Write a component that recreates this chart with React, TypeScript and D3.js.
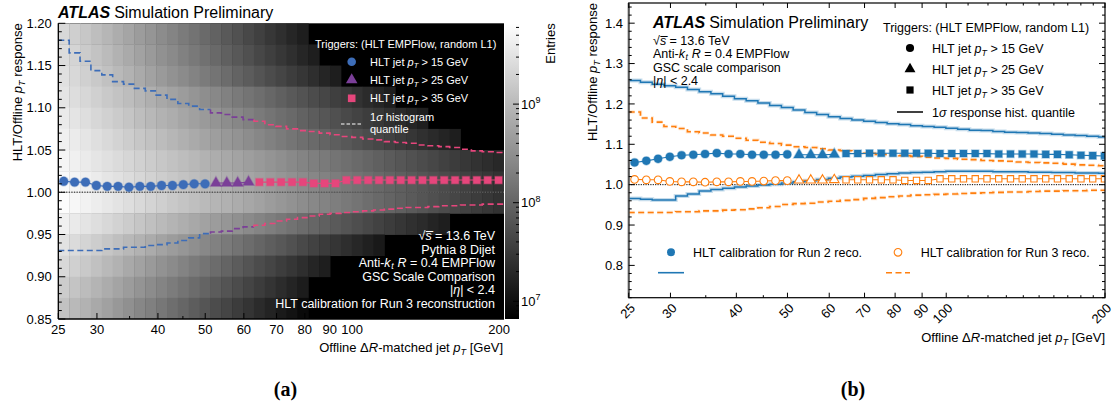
import React from 'react';
import * as d3 from 'd3';

// ---- offline pT binning, shared by both panels (log-spaced)
const PT_MIN = 25;
const PT_MAX = 204.7;
const N_BINS = 41;
const ptEdges = d3.range(N_BINS + 1).map((i) => PT_MIN * Math.pow(PT_MAX / PT_MIN, i / N_BINS));
const ptCenters = ptEdges.slice(0, -1).map((e, i) => Math.sqrt(e * ptEdges[i + 1]));

const ptTicks = [25, 30, 40, 50, 60, 70, 80, 90, 100, 200];
const ptMinorTicks = [35, 45, 110, 120, 130, 140, 150, 160, 170, 180, 190];

// trigger thresholds and the first bin each one is used from
const triggerLabels = ['15', '25', '35'];
const triggerStart = [0, 14, 18];

// Run 3 calibration: median response per bin (panel a, orange in panel b)
const run3Circles = [1.013, 1.012, 1.012, 1.008, 1.007, 1.007, 1.006, 1.007, 1.007, 1.008, 1.008, 1.009, 1.010, 1.010];
const run3Triangles = [1.011, 1.011, 1.011, 1.012];
const run3Squares = [1.012, 1.012, 1.012, 1.012, 1.012, 1.0105, 1.0105, 1.0105, 1.0145, 1.0145, 1.0145, 1.0145,
  1.0145, 1.0145, 1.0145, 1.0145, 1.0145, 1.0145, 1.0145, 1.0145, 1.0145, 1.0145, 1.0145];
const run3Upper = [1.180, 1.165, 1.155, 1.144, 1.139, 1.131, 1.128, 1.123, 1.120, 1.115, 1.110, 1.105, 1.102, 1.098,
  1.094, 1.092, 1.089, 1.086, 1.084, 1.080, 1.078, 1.075, 1.073, 1.072, 1.070, 1.068, 1.066, 1.065, 1.063, 1.062,
  1.060, 1.059, 1.058, 1.056, 1.055, 1.054, 1.053, 1.051, 1.049, 1.048, 1.047];
const run3Lower = [0.931, 0.931, 0.931, 0.931, 0.933, 0.933, 0.935, 0.935, 0.937, 0.938, 0.940, 0.943, 0.946, 0.951,
  0.953, 0.954, 0.957, 0.959, 0.961, 0.963, 0.966, 0.968, 0.970, 0.972, 0.974, 0.975, 0.976, 0.977, 0.978, 0.979,
  0.980, 0.981, 0.982, 0.982, 0.983, 0.984, 0.984, 0.985, 0.985, 0.986, 0.986];

// Run 2 calibration (blue in panel b)
const run2Circles = [1.055, 1.059, 1.064, 1.069, 1.073, 1.074, 1.076, 1.078, 1.076, 1.076, 1.074, 1.074, 1.074, 1.075];
const run2Triangles = [1.074, 1.074, 1.074, 1.075];
const run2Squares = [1.077, 1.077, 1.078, 1.078, 1.078, 1.078, 1.078, 1.078, 1.077, 1.077, 1.077, 1.077, 1.077,
  1.076, 1.076, 1.076, 1.076, 1.075, 1.075, 1.074, 1.073, 1.072, 1.071];
const run2Upper = [1.258, 1.254, 1.249, 1.245, 1.241, 1.236, 1.230, 1.225, 1.219, 1.213, 1.208, 1.202, 1.196, 1.191,
  1.185, 1.179, 1.174, 1.168, 1.164, 1.160, 1.157, 1.154, 1.151, 1.149, 1.146, 1.144, 1.142, 1.140, 1.137, 1.135,
  1.134, 1.132, 1.130, 1.129, 1.128, 1.127, 1.125, 1.123, 1.122, 1.120, 1.118];
const run2Lower = [0.966, 0.964, 0.962, 0.962, 0.972, 0.977, 0.984, 0.988, 0.991, 0.994, 0.997, 0.999, 1.001, 1.004,
  1.007, 1.010, 1.013, 1.016, 1.019, 1.021, 1.023, 1.025, 1.027, 1.029, 1.030, 1.031, 1.032, 1.033, 1.033, 1.033,
  1.033, 1.032, 1.032, 1.032, 1.031, 1.031, 1.030, 1.030, 1.029, 1.029, 1.028];

// 2D response histogram, log10(entries); rows top to bottom, lower edge of each row below
const responseBinLow = [1.175, 1.15, 1.125, 1.1, 1.075, 1.05, 1.025, 1.0, 0.975, 0.95, 0.925, 0.9, 0.875, 0.85];
const histLog10 = [
  [9.36, 9.26, 9.16, 9.06, 8.96, 8.86, 8.76, 8.66, 8.57, 8.47, 8.37, 8.27, 8.17, 8.07, 7.97, 7.87, 7.77, 7.67, 7.57, 7.47, 7.37, 7.27, 7.17],
  [9.41, 9.31, 9.21, 9.12, 9.02, 8.92, 8.82, 8.73, 8.63, 8.53, 8.44, 8.34, 8.24, 8.15, 8.05, 7.95, 7.86, 7.76, 7.66, 7.56, 7.47, 7.37, 7.27, 7.17],
  [9.46, 9.36, 9.27, 9.18, 9.09, 9.00, 8.91, 8.82, 8.73, 8.63, 8.54, 8.45, 8.36, 8.27, 8.18, 8.09, 7.99, 7.90, 7.81, 7.72, 7.63, 7.54, 7.45, 7.36, 7.26, 7.17],
  [9.50, 9.42, 9.35, 9.27, 9.19, 9.11, 9.04, 8.96, 8.88, 8.80, 8.73, 8.65, 8.57, 8.49, 8.42, 8.34, 8.26, 8.18, 8.11, 8.03, 7.95, 7.87, 7.80, 7.72, 7.64, 7.56, 7.49, 7.41, 7.33, 7.25, 7.17],
  [9.57, 9.50, 9.43, 9.35, 9.28, 9.21, 9.14, 9.06, 8.99, 8.92, 8.85, 8.77, 8.70, 8.63, 8.56, 8.48, 8.41, 8.34, 8.26, 8.19, 8.12, 8.05, 7.97, 7.90, 7.83, 7.76, 7.68, 7.61, 7.54, 7.47, 7.39, 7.32, 7.25, 7.17],
  [9.64, 9.58, 9.51, 9.44, 9.37, 9.30, 9.23, 9.16, 9.10, 9.03, 8.96, 8.89, 8.82, 8.75, 8.68, 8.61, 8.55, 8.48, 8.41, 8.34, 8.27, 8.20, 8.13, 8.07, 8.00, 7.93, 7.86, 7.79, 7.72, 7.65, 7.58, 7.52, 7.45, 7.38, 7.31, 7.24, 7.17],
  [9.70, 9.64, 9.58, 9.52, 9.46, 9.40, 9.34, 9.28, 9.22, 9.16, 9.10, 9.04, 8.98, 8.92, 8.86, 8.80, 8.74, 8.68, 8.62, 8.56, 8.50, 8.43, 8.37, 8.31, 8.25, 8.19, 8.13, 8.07, 8.01, 7.95, 7.89, 7.83, 7.77, 7.71, 7.65, 7.59, 7.53, 7.47, 7.41, 7.35, 7.29],
  [9.76, 9.70, 9.64, 9.58, 9.52, 9.47, 9.41, 9.35, 9.29, 9.23, 9.17, 9.11, 9.05, 9.00, 8.94, 8.88, 8.82, 8.76, 8.70, 8.64, 8.58, 8.53, 8.47, 8.41, 8.35, 8.29, 8.23, 8.17, 8.11, 8.06, 8.00, 7.94, 7.88, 7.82, 7.76, 7.70, 7.64, 7.58, 7.53, 7.47, 7.41],
  [9.79, 9.73, 9.67, 9.61, 9.55, 9.49, 9.43, 9.37, 9.31, 9.25, 9.19, 9.13, 9.07, 9.01, 8.95, 8.90, 8.84, 8.78, 8.72, 8.66, 8.60, 8.54, 8.48, 8.42, 8.36, 8.30, 8.24, 8.18, 8.12, 8.06, 8.00, 7.94, 7.88, 7.82, 7.76, 7.70, 7.64, 7.58, 7.53, 7.47, 7.41],
  [9.64, 9.57, 9.50, 9.43, 9.36, 9.29, 9.22, 9.15, 9.08, 9.01, 8.94, 8.87, 8.80, 8.73, 8.66, 8.59, 8.51, 8.44, 8.37, 8.30, 8.23, 8.16, 8.09, 8.02, 7.95, 7.88, 7.81, 7.74, 7.67, 7.60, 7.53, 7.46, 7.39, 7.32, 7.24, 7.17],
  [9.48, 9.40, 9.32, 9.23, 9.15, 9.07, 8.99, 8.91, 8.83, 8.74, 8.66, 8.58, 8.50, 8.42, 8.34, 8.26, 8.17, 8.09, 8.01, 7.93, 7.85, 7.77, 7.68, 7.60, 7.52, 7.44, 7.36, 7.28, 7.20, 7.11],
  [9.36, 9.27, 9.18, 9.09, 9.00, 8.91, 8.81, 8.72, 8.63, 8.54, 8.45, 8.36, 8.27, 8.18, 8.09, 8.00, 7.90, 7.81, 7.72, 7.63, 7.54, 7.45, 7.36, 7.26, 7.17],
  [9.22, 9.13, 9.03, 8.94, 8.84, 8.75, 8.66, 8.56, 8.47, 8.37, 8.28, 8.19, 8.09, 8.00, 7.90, 7.81, 7.72, 7.62, 7.53, 7.43, 7.34, 7.24, 7.15],
  [9.10, 9.00, 8.91, 8.81, 8.71, 8.61, 8.51, 8.41, 8.32, 8.22, 8.12, 8.02, 7.92, 7.82, 7.72, 7.63, 7.53, 7.43, 7.33, 7.23, 7.13, 7.04, 6.94],
];
const COLOR_MIN = 6.82;
const COLOR_MAX = 9.82;

const FONT = '"Liberation Sans", Arial, Helvetica, sans-serif';
const SERIF = '"Liberation Serif", "Times New Roman", Times, serif';
const symbolTypes = [d3.symbolCircle, d3.symbolTriangle, d3.symbolSquare];

const sym = (i: number, size: number) => d3.symbol().type(symbolTypes[i]).size(size)() as string;

// step path for bins [from, to), joined to the previous bin if any
function stepPath(x: any, y: any, vals: number[], from: number, to: number) {
  const pts: [number, number][] = [];
  if (from > 0) pts.push([ptEdges[from], vals[from - 1]]);
  for (let i = from; i < to; i++) pts.push([ptEdges[i], vals[i]]);
  pts.push([ptEdges[to], vals[to - 1]]);
  return d3.line<[number, number]>().x((d) => x(d[0])).y((d) => y(d[1])).curve(d3.curveStepAfter)(pts) as string;
}

const groupsOf = (a: number[], b: number[], c: number[]) => [a, b, c];

// "HLT jet pT > NN GeV"
const PtLabel = ({ thr, fs }: { thr: string; fs: number }) => (
  <>
    HLT jet <tspan fontStyle="italic">p</tspan>
    <tspan fontStyle="italic" fontSize={fs * 0.7} dy={fs * 0.25}>T</tspan>
    <tspan dy={-fs * 0.25}> &gt; {thr} GeV</tspan>
  </>
);

const PtAxisLabel = ({ fs }: { fs: number }) => (
  <>
    Offline Δ<tspan fontStyle="italic">R</tspan>-matched jet <tspan fontStyle="italic">p</tspan>
    <tspan fontStyle="italic" fontSize={fs * 0.7} dy={fs * 0.25}>T</tspan>
    <tspan dy={-fs * 0.25}> [GeV]</tspan>
  </>
);

const ResponseLabel = ({ fs }: { fs: number }) => (
  <>
    HLT/Offline <tspan fontStyle="italic">p</tspan>
    <tspan fontStyle="italic" fontSize={fs * 0.7} dy={fs * 0.25}>T</tspan>
    <tspan dy={-fs * 0.25}> response</tspan>
  </>
);

const Sqrts = () => (
  <>
    √<tspan fontStyle="italic">{'s\u0305'}</tspan> = 13.6 TeV
  </>
);

const AntiKt = ({ fs }: { fs: number }) => (
  <>
    Anti-<tspan fontStyle="italic">k</tspan>
    <tspan fontStyle="italic" fontSize={fs * 0.7} dx={0.6} dy={fs * 0.18}>t</tspan>
    <tspan fontStyle="italic" dx={fs * 0.3} dy={-fs * 0.18}>R</tspan>
    <tspan> = 0.4 EMPFlow</tspan>
  </>
);

const Eta = () => (
  <>
    |<tspan fontStyle="italic">η</tspan>| &lt; 2.4
  </>
);

const AtlasHeader = ({ x, y }: { x: number; y: number }) => (
  <text x={x} y={y} fontSize={16} fontFamily={FONT}>
    <tspan fontWeight="bold" fontStyle="italic">ATLAS</tspan>
    <tspan dx={4}>Simulation Preliminary</tspan>
  </text>
);

function PanelA() {
  const L = 58.3, R = 504, T = 23.3, B = 319;
  const x = d3.scaleLog().domain([PT_MIN, PT_MAX]).range([L, R]);
  const y = d3.scaleLinear().domain([0.85, 1.2]).range([B, T]);
  const gray = d3.scaleSequential(d3.interpolateRgb('#000000', '#ffffff')).domain([COLOR_MIN, COLOR_MAX]).clamp(true);
  const cb = d3.scaleLog().domain([Math.pow(10, COLOR_MIN), Math.pow(10, COLOR_MAX)]).range([B, T]);
  const CBL = 505, CBR = 519;

  const colors = ['#3d6db8', '#7b3f98', '#e6467c'];
  const groups = groupsOf(run3Circles, run3Triangles, run3Squares);
  const bounds = [0, 14, 18, 41];

  const cells: JSX.Element[] = [];
  histLog10.forEach((row, r) => {
    const lo = responseBinLow[r];
    row.forEach((v, c) => {
      const x0 = x(ptEdges[c]);
      const x1 = x(ptEdges[c + 1]);
      cells.push(
        <rect key={`${r}-${c}`} x={x0} y={y(lo + 0.025)} width={x1 - x0 + 0.4} height={y(lo) - y(lo + 0.025) + 0.4}
          fill={gray(v)} />
      );
    });
  });

  const yMajor = d3.range(0.85, 1.2001, 0.05).map((v) => +v.toFixed(2));
  const yMinor = d3.range(0.85, 1.2001, 0.01).map((v) => +v.toFixed(2)).filter((v) => !yMajor.includes(v));

  const cbMajor = [1e7, 1e8, 1e9];
  const cbMinor: number[] = [];
  [6, 7, 8, 9].forEach((k) => d3.range(2, 10).forEach((m) => {
    const v = m * Math.pow(10, k);
    if (v > cb.domain()[0] && v < cb.domain()[1]) cbMinor.push(v);
  }));
  const stops = d3.range(0, 1.0001, 0.1);

  return (
    <g fontFamily={FONT}>
      <defs>
        <clipPath id="clipA"><rect x={L} y={T} width={R - L} height={B - T} /></clipPath>
        <linearGradient id="cbGrad" x1="0" y1="1" x2="0" y2="0">
          {stops.map((t) => (
            <stop key={t} offset={t} stopColor={gray(COLOR_MIN + t * (COLOR_MAX - COLOR_MIN))} />
          ))}
        </linearGradient>
      </defs>
      <rect x={L} y={T} width={R - L} height={B - T} fill="#000" />
      <g clipPath="url(#clipA)">
        {cells}
        <line x1={L} x2={R} y1={y(1)} y2={y(1)} stroke="#5a5a5a" strokeWidth={1.6} strokeDasharray="1.3 1.3" />
        {[run3Upper, run3Lower].map((vals, k) =>
          [0, 1, 2].map((g) => (
            <path key={`q${k}${g}`} d={stepPath(x, y, vals, bounds[g], bounds[g + 1])} fill="none" stroke={colors[g]}
              strokeWidth={1.6} strokeDasharray="6 3.5" />
          ))
        )}
        {groups.map((vals, g) => {
          const line = d3.line<number>().x((_, i) => x(ptCenters[triggerStart[g] + i])).y((d) => y(d));
          return <path key={`l${g}`} d={line(vals) as string} fill="none" stroke={colors[g]} strokeWidth={1.1} />;
        })}
        {groups.map((vals, g) =>
          vals.map((v, i) => (
            <path key={`m${g}-${i}`} d={sym(g, g === 0 ? 62 : 52)}
              transform={`translate(${x(ptCenters[triggerStart[g] + i])},${y(v)})`} fill={colors[g]}
              stroke={colors[g]} strokeOpacity={0.35} strokeWidth={1.5} />
          ))
        )}
      </g>

      {/* legend */}
      <g fill="#fff" fontSize={11}>
        <text x={315} y={48}>Triggers: (HLT EMPFlow, random L1)</text>
        {triggerLabels.map((t, g) => (
          <g key={t}>
            <path d={sym(g, 58)} transform={`translate(351.7,${61.7 + g * 18.3})`} fill={colors[g]} />
            <text x={370} y={65.7 + g * 18.3}><PtLabel thr={t} fs={11} /></text>
          </g>
        ))}
        <line x1={341} x2={362} y1={124} y2={124} stroke="#fff" strokeWidth={1.2} strokeDasharray="3.5 2" />
        <text x={370} y={121}>1<tspan fontStyle="italic">σ</tspan> histogram</text>
        <text x={370} y={132.5}>quantile</text>
      </g>

      {/* info */}
      <g fill="#fff" fontSize={12.5} textAnchor="end">
        <text x={495} y={240}><Sqrts /></text>
        <text x={495} y={253.5}>Pythia 8 Dijet</text>
        <text x={495} y={266.5}><AntiKt fs={12.5} /></text>
        <text x={495} y={280.5}>GSC Scale Comparison</text>
        <text x={495} y={294}><Eta /></text>
        <text x={495} y={307.5}>HLT calibration for Run 3 reconstruction</text>
      </g>

      {/* axes */}
      <line x1={L} x2={L} y1={T} y2={B} stroke="#000" strokeWidth={1.3} />
      <line x1={L} x2={R} y1={B} y2={B} stroke="#000" strokeWidth={1.3} />
      {yMajor.map((v) => (
        <g key={`ym${v}`}>
          <line x1={L} x2={L + 7} y1={y(v)} y2={y(v)} stroke="#000" strokeWidth={1} />
          <text x={L - 6.5} y={y(v)} dy="0.36em" fontSize={13} textAnchor="end">{v.toFixed(2)}</text>
        </g>
      ))}
      {yMinor.map((v) => (
        <line key={`yn${v}`} x1={L} x2={L + 3.5} y1={y(v)} y2={y(v)} stroke="#000" strokeWidth={1} />
      ))}
      {ptTicks.map((v) => (
        <g key={`xm${v}`}>
          <line x1={x(v)} x2={x(v)} y1={B} y2={B - 6} stroke="#000" />
          <text x={x(v)} y={334} fontSize={13} textAnchor="middle">{v}</text>
        </g>
      ))}
      {ptMinorTicks.map((v) => (
        <line key={`xn${v}`} x1={x(v)} x2={x(v)} y1={B} y2={B - 3} stroke="#000" />
      ))}
      <text x={503} y={352} fontSize={13} textAnchor="end"><PtAxisLabel fs={13} /></text>
      <text transform={`translate(21.5,${T}) rotate(-90)`} fontSize={13} textAnchor="end"><ResponseLabel fs={13} /></text>
      <AtlasHeader x={58} y={18} />

      {/* colour bar */}
      <rect x={CBL} y={T} width={CBR - CBL} height={B - T} fill="url(#cbGrad)" />
      {cbMajor.map((v, i) => (
        <g key={`cb${v}`}>
          <line x1={CBR} x2={CBR - 6} y1={cb(v)} y2={cb(v)} stroke="#000" />
          <text x={521} y={cb(v) + 4.5} fontSize={13}>10<tspan dy={-5.5} fontSize={9}>{7 + i}</tspan></text>
        </g>
      ))}
      {cbMinor.map((v) => (
        <line key={`cbn${v}`} x1={CBR} x2={CBR - 3} y1={cb(v)} y2={cb(v)} stroke="#000" />
      ))}
      <text transform={`translate(555,${T}) rotate(-90)`} fontSize={13} textAnchor="end">Entries</text>

      <text x={285.5} y={396} fontFamily={SERIF} fontWeight="bold" fontSize={20} textAnchor="middle">(a)</text>
    </g>
  );
}

function PanelB() {
  const L = 628.7, R = 1105, T = 3, B = 297.7;
  const x = d3.scaleLog().domain([25, 200]).range([L, R]);
  const y = d3.scaleLinear().domain([0.72, 1.45]).range([B, T]);
  const blue = '#1f77b4';
  const orange = '#ff7f0e';

  const yMajor = d3.range(0.8, 1.4001, 0.1).map((v) => +v.toFixed(1));
  const yMinor = d3.range(0.72, 1.4501, 0.02).map((v) => +v.toFixed(2)).filter((v) => !yMajor.some((m) => Math.abs(m - v) < 1e-6));

  const run2 = groupsOf(run2Circles, run2Triangles, run2Squares);
  const run3 = groupsOf(run3Circles, run3Triangles, run3Squares);

  const markerLine = (vals: number[], g: number) =>
    d3.line<number>().x((_, i) => x(ptCenters[triggerStart[g] + i])).y((d) => y(d))(vals) as string;

  return (
    <g fontFamily={FONT}>
      <defs>
        <clipPath id="clipB"><rect x={L} y={T} width={R - L} height={B - T} /></clipPath>
      </defs>
      <g clipPath="url(#clipB)">
        <line x1={L} x2={R} y1={y(1)} y2={y(1)} stroke="#000" strokeWidth={1} strokeDasharray="1.2 1.2" />
        {[run2Upper, run2Lower].map((vals, k) => {
          const d = stepPath(x, y, vals, 0, N_BINS);
          return (
            <g key={`r2q${k}`}>
              <path d={d} fill="none" stroke={blue} strokeOpacity={0.25} strokeWidth={4} />
              <path d={d} fill="none" stroke={blue} strokeWidth={1.5} />
            </g>
          );
        })}
        {[run3Upper, run3Lower].map((vals, k) => {
          const d = stepPath(x, y, vals, 0, N_BINS);
          return (
            <g key={`r3q${k}`}>
              <path d={d} fill="none" stroke={orange} strokeOpacity={0.18} strokeWidth={3.5} strokeDasharray="6 3.5" />
              <path d={d} fill="none" stroke={orange} strokeWidth={1.6} strokeDasharray="6 3.5" />
            </g>
          );
        })}
        {run2.map((vals, g) => (
          <path key={`r2l${g}`} d={markerLine(vals, g)} fill="none" stroke={blue} strokeWidth={1.1} />
        ))}
        {run3.map((vals, g) => (
          <path key={`r3l${g}`} d={markerLine(vals, g)} fill="none" stroke={orange} strokeWidth={1.1} />
        ))}
        {run2.map((vals, g) =>
          vals.map((v, i) => (
            <path key={`r2m${g}-${i}`} d={sym(g, g === 0 ? 52 : 50)}
              transform={`translate(${x(ptCenters[triggerStart[g] + i])},${y(v)})`} fill={blue}
              stroke={blue} strokeOpacity={0.35} strokeWidth={1.5} />
          ))
        )}
        {run3.map((vals, g) =>
          vals.map((v, i) => (
            <path key={`r3m${g}-${i}`} d={sym(g, g === 0 ? 46 : 40)}
              transform={`translate(${x(ptCenters[triggerStart[g] + i])},${y(v)})`} fill="#fff"
              stroke={orange} strokeWidth={1.1} />
          ))
        )}
      </g>

      {/* frame and ticks */}
      <rect x={L} y={T} width={R - L} height={B - T} fill="none" stroke="#000" strokeWidth={1.2} />
      <line x1={L} x2={L} y1={T} y2={B} stroke="#555" strokeWidth={2} />
      {yMajor.map((v) => (
        <g key={`bym${v}`}>
          <line x1={L} x2={L + 6} y1={y(v)} y2={y(v)} stroke="#000" />
          <line x1={R} x2={R - 6} y1={y(v)} y2={y(v)} stroke="#000" />
          <text x={623} y={y(v)} dy="0.36em" fontSize={13} textAnchor="end">{v.toFixed(1)}</text>
        </g>
      ))}
      {yMinor.map((v) => (
        <g key={`byn${v}`}>
          <line x1={L} x2={L + 3} y1={y(v)} y2={y(v)} stroke="#000" />
          <line x1={R} x2={R - 3} y1={y(v)} y2={y(v)} stroke="#000" />
        </g>
      ))}
      {ptTicks.map((v) => (
        <g key={`bxm${v}`}>
          <line x1={x(v)} x2={x(v)} y1={B} y2={B - 5} stroke="#000" />
          <line x1={x(v)} x2={x(v)} y1={T} y2={T + 5} stroke="#000" />
          <text transform={`translate(${x(v) + 4},${B + 8}) rotate(-45)`} dy="0.35em" fontSize={13} textAnchor="end">{v}</text>
        </g>
      ))}
      {ptMinorTicks.filter((v) => v <= 200).map((v) => (
        <g key={`bxn${v}`}>
          <line x1={x(v)} x2={x(v)} y1={B} y2={B - 2.5} stroke="#000" />
          <line x1={x(v)} x2={x(v)} y1={T} y2={T + 2.5} stroke="#000" />
        </g>
      ))}
      <text x={R} y={342} fontSize={13} textAnchor="end"><PtAxisLabel fs={13} /></text>
      <text transform={`translate(597,${T}) rotate(-90)`} fontSize={13} textAnchor="end"><ResponseLabel fs={13} /></text>

      {/* labels */}
      <AtlasHeader x={653} y={28} />
      <g fontSize={12.5}>
        <text x={653} y={45}><Sqrts /></text>
        <text x={653} y={58}><AntiKt fs={12.5} /></text>
        <text x={653} y={71.5}>GSC scale comparison</text>
        <text x={653} y={84.5}><Eta /></text>
      </g>
      <g fontSize={12.5}>
        <text x={883} y={31.5}>Triggers: (HLT EMPFlow, random L1)</text>
        {triggerLabels.map((t, g) => (
          <g key={`bl${t}`}>
            <path d={sym(g, 52)} transform={`translate(910,${48 + g * 21})`} fill="#000" />
            <text x={932} y={52.5 + g * 21}><PtLabel thr={t} fs={12.5} /></text>
          </g>
        ))}
        <line x1={897} x2={923} y1={112} y2={112} stroke="#000" strokeWidth={1.5} />
        <text x={932} y={116.5}>1<tspan fontStyle="italic">σ</tspan> response hist. quantile</text>

        <path d={sym(0, 50)} transform="translate(671,252.3)" fill={blue} />
        <text x={693} y={256.7}>HLT calibration for Run 2 reco.</text>
        <line x1={658} x2={684} y1={272.7} y2={272.7} stroke={blue} strokeWidth={1.6} />
        <path d={sym(0, 46)} transform="translate(898,252.3)" fill="#fff" stroke={orange} strokeWidth={1.1} />
        <text x={920.7} y={256.7}>HLT calibration for Run 3 reco.</text>
        <line x1={886} x2={910} y1={272.7} y2={272.7} stroke={orange} strokeWidth={1.6} strokeDasharray="6 3.5" />
      </g>

      <text x={853} y={396} fontFamily={SERIF} fontWeight="bold" fontSize={20} textAnchor="middle">(b)</text>
    </g>
  );
}

export default function App() {
  return (
    <svg width={1113} height={409} viewBox="0 0 1113 409"
      style={{ position: 'absolute', left: 0, top: 0, background: '#fff' }}>
      <rect width={1113} height={409} fill="#fff" />
      <PanelA />
      <PanelB />
    </svg>
  );
}
